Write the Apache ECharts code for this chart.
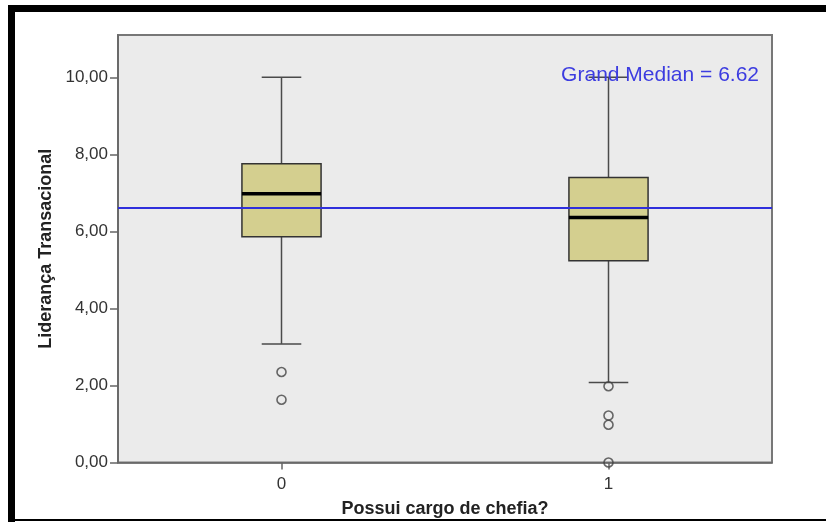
<!DOCTYPE html>
<html>
<head>
<meta charset="utf-8">
<script src="https://cdn.jsdelivr.net/npm/echarts@6/dist/echarts.min.js"></script>
<style>
html,body{margin:0;padding:0;background:#fff;}
#chart{width:826px;height:522px;}
</style>
</head>
<body>
<div id="chart"></div>
<script>
// ---- data ----
const categories = ['0', '1'];
const whiskerLow = [3.08, 2.08];
const q1 = [5.86, 5.24];
const median = [6.98, 6.36];
const q3 = [7.76, 7.40];
const whiskerHigh = [10.0, 10.0];
const outliers0 = [2.35, 1.63];
const outliers1 = [1.98, 1.22, 0.98, 0.0];
const yTicks = [0, 2, 4, 6, 8, 10];
const grandMedian = 6.62;

const boxData = categories.map((c, i) => [i, whiskerLow[i], q1[i], median[i], q3[i], whiskerHigh[i]]);
const outlierData = outliers0.map(v => [categories[0], v]).concat(outliers1.map(v => [categories[1], v]));

const FONT = "'Liberation Sans', Arial, sans-serif";
const chart = echarts.init(document.getElementById('chart'));

chart.setOption({
  animation: false,
  backgroundColor: '#ffffff',
  title: {
    text: 'Grand Median = ' + grandMedian.toFixed(2),
    right: 62,
    top: 60,
    textStyle: { fontFamily: FONT, fontSize: 21, fontWeight: 'normal', color: '#3c3ce0' }
  },
  grid: {
    left: 118, right: 54, top: 35, bottom: 59.5,
    outerBoundsMode: 'none',
    containLabel: false,
    show: true, backgroundColor: '#ebebeb', borderColor: '#777777', borderWidth: 2
  },
  xAxis: {
    type: 'category',
    data: categories,
    name: 'Possui cargo de chefia?',
    nameLocation: 'middle',
    nameGap: 38,
    nameTextStyle: { fontFamily: FONT, fontSize: 18, fontWeight: 'bold', color: '#222' },
    axisLine: { show: true, lineStyle: { color: '#666', width: 1.5 } },
    axisTick: { show: true, alignWithLabel: true, length: 7, lineStyle: { color: '#666', width: 1.5 } },
    axisLabel: { fontFamily: FONT, fontSize: 17, color: '#333', margin: 13 },
    splitLine: { show: false }
  },
  yAxis: {
    type: 'value',
    min: 0,
    max: 11.1,
    interval: 2,
    name: 'Liderança Transacional',
    nameLocation: 'middle',
    nameRotate: 90,
    nameGap: 62,
    nameTextStyle: { fontFamily: FONT, fontSize: 18, fontWeight: 'bold', color: '#222' },
    axisLine: { show: true, lineStyle: { color: '#666', width: 1.5 } },
    axisTick: { show: true, length: 8, customValues: yTicks, lineStyle: { color: '#666', width: 1.5 } },
    axisLabel: {
      fontFamily: FONT, fontSize: 17, color: '#333', margin: 10,
      customValues: yTicks,
      formatter: v => v.toFixed(2).replace('.', ',')
    },
    splitLine: { show: false }
  },
  series: [
    {
      type: 'custom',
      data: boxData,
      encode: { x: 0, y: [1, 2, 3, 4, 5] },
      z: 3,
      renderItem: function (params, api) {
        const idx = api.value(0);
        const lo = api.coord([idx, api.value(1)]);
        const b1 = api.coord([idx, api.value(2)]);
        const md = api.coord([idx, api.value(3)]);
        const b3 = api.coord([idx, api.value(4)]);
        const hi = api.coord([idx, api.value(5)]);
        const band = api.size([1, 0])[0];
        const hw = band * 0.121;
        const cw = hw * 0.5;
        const x = lo[0];
        const wStyle = { stroke: '#4a4a4a', lineWidth: 1.5 };
        return {
          type: 'group',
          children: [
            { type: 'line', shape: { x1: x, y1: b3[1], x2: x, y2: hi[1] }, style: wStyle },
            { type: 'line', shape: { x1: x, y1: b1[1], x2: x, y2: lo[1] }, style: wStyle },
            { type: 'line', shape: { x1: x - cw, y1: hi[1], x2: x + cw, y2: hi[1] }, style: wStyle },
            { type: 'line', shape: { x1: x - cw, y1: lo[1], x2: x + cw, y2: lo[1] }, style: wStyle },
            { type: 'rect', shape: { x: x - hw, y: b3[1], width: hw * 2, height: b1[1] - b3[1] },
              style: { fill: '#d4cf8f', stroke: '#333333', lineWidth: 1.5 } },
            { type: 'line', shape: { x1: x - hw, y1: md[1], x2: x + hw, y2: md[1] },
              style: { stroke: '#000000', lineWidth: 3.5 } }
          ]
        };
      },
      markLine: {
        silent: true,
        symbol: 'none',
        label: { show: false },
        lineStyle: { color: '#2f2fdc', width: 2, type: 'solid' },
        data: [{ yAxis: grandMedian }]
      }
    },
    {
      type: 'scatter',
      data: outlierData,
      symbol: 'circle',
      symbolSize: 9,
      clip: false,
      z: 4,
      itemStyle: { color: 'rgba(0,0,0,0)', borderColor: '#444444', borderWidth: 1.6 }
    }
  ],
  graphic: [
    { type: 'rect', shape: { x: 8, y: 5, width: 818, height: 7 }, style: { fill: '#000' }, z: 100 },
    { type: 'rect', shape: { x: 8, y: 5, width: 7, height: 517 }, style: { fill: '#000' }, z: 100 },
    { type: 'rect', shape: { x: 8, y: 519, width: 818, height: 2 }, style: { fill: '#000' }, z: 100 }
  ]
});
</script>
</body>
</html>
